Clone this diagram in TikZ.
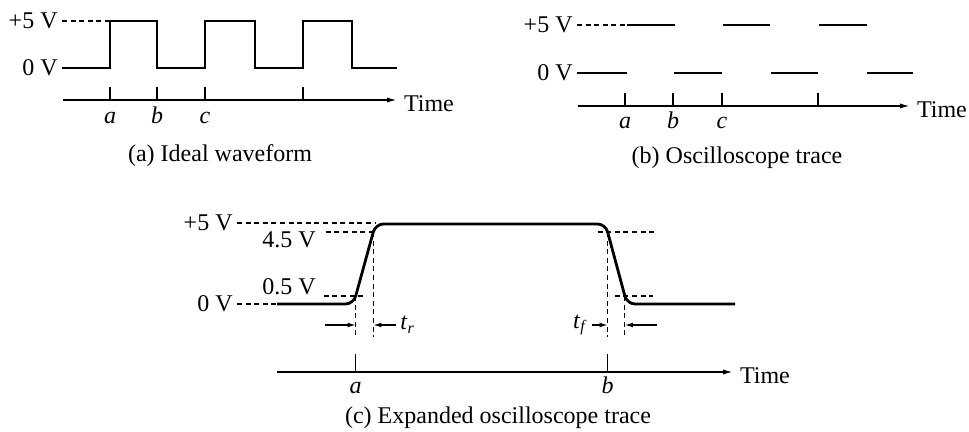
\documentclass[tikz,border=0pt]{standalone}
\usepackage{fontspec}
\setmainfont{Liberation Serif}
\usetikzlibrary{arrows.meta, calc}

\begin{document}
\begin{tikzpicture}[
  x=0.5pt, y=-0.5pt,
  font=\fontsize{12}{14}\selectfont,
  wave/.style={line width=0.9pt},
  trace/.style={line width=1.4pt, rounded corners=4pt},
  guide/.style={line width=0.6pt, dash pattern=on 2.5pt off 1.8pt},
  axis/.style={line width=0.8pt, -{Latex[length=5pt, width=2.6pt]}},
  tick/.style={line width=0.6pt},
  dim/.style={line width=0.6pt, -{Latex[length=4pt, width=2.4pt]}},
  lvl/.style={anchor=east, inner sep=2pt},
  tlbl/.style={anchor=base, font=\fontsize{12}{14}\selectfont\itshape},
  captxt/.style={anchor=base},
]
\useasboundingbox (0,0) rectangle (969,432);

% (a) ideal waveform
\node (a5) [lvl] at (62,21) {+5 V};
\node (a0) [lvl] at (62,68) {0 V};
\node (atime) [anchor=west, yshift=-2pt] at (397,100) {Time};
\coordinate (aorg) at (63,100);
\draw [guide] (a5.east) -- (110,21);
\draw [wave] (a0.east) \foreach \r/\f in {110/157, 205/255, 303/352}
  { -- (\r,68) -- (\r,21) -- (\f,21) -- (\f,68) } -- (397,68);
\draw [axis] (aorg) -- (atime.west |- aorg);
\foreach \x/\t in {110/a, 157/b, 205/c}
  { \draw [tick] (\x,87) -- (\x,100);
    \node (ta-\t) [tlbl] at (\x,124) {\t}; }
\draw [tick] (303,87) -- (303,100);
\node (acap) [captxt] at (220,162) {(a) Ideal waveform};

% (b) oscilloscope trace
\node (b5) [lvl] at (577,25) {+5 V};
\node (b0) [lvl] at (577,73) {0 V};
\node (btime) [anchor=west, yshift=-2pt] at (910,106) {Time};
\coordinate (borg) at (578,106);
\draw [guide] (b5.east) -- (627,25);
\foreach \s/\e in {627/675, 723/770, 819/867}
  \draw [wave] (\s,25) -- (\e,25);
\draw [wave] (b0.east) -- (627,73);
\foreach \s/\e in {674/722, 771/818, 867/913}
  \draw [wave] (\s,73) -- (\e,73);
\draw [axis] (borg) -- (btime.west |- borg);
\foreach \x/\t in {625/a, 673/b, 722/c}
  { \draw [tick] (\x,93) -- (\x,106);
    \node (tb-\t) [tlbl] at (\x,129) {\t}; }
\draw [tick] (818,93) -- (818,106);
\node (bcap) [captxt] at (737,164) {(b) Oscilloscope trace};

% (c) expanded trace
\node (c5) [lvl] at (237,223) {+5 V};
\node (c45) at (289,240) {4.5 V};
\node (c05) at (289,287) {0.5 V};
\node (c0) [lvl] at (237,304) {0 V};
\coordinate (rlo) at (353.5,304);
\coordinate (rhi) at (375.5,224);
\coordinate (fhi) at (605.5,224);
\coordinate (flo) at (627,304);
\coordinate (r10) at ($(rlo)!0.1!(rhi)$);
\coordinate (r90) at ($(rlo)!0.9!(rhi)$);
\coordinate (f90) at ($(fhi)!0.1!(flo)$);
\coordinate (f10) at ($(fhi)!0.9!(flo)$);
\coordinate (dimrow) at (0,325);
\coordinate (vend) at (0,337);
\draw [guide] (c0.east) -- (277,304);
\draw [trace] (277,304) -- (rlo) -- (rhi) -- (fhi) -- (flo) -- (735,304);
\draw [guide] (c5.east) -- (rhi |- c5.east);
\draw [guide] ($(c45.east |- r90)+(3,0)$) -- (r90);
\draw [guide] ($(c05.east |- r10)+(1,0)$) -- ($(r10)+(8,0)$);
\draw [guide] ($(f90)+(-10,0)$) -- ($(f90)+(46,0)$);
\draw [guide] ($(f10)+(-10,0)$) -- ($(f10)+(28,0)$);
\foreach \p in {r10, r90, f90, f10}
  \draw [guide] (\p) -- (\p |- vend);
% rise and fall times
\node (tr) [anchor=west, inner sep=2pt] at (396,325) {\textit{t}\textsubscript{\textit{r}}};
\node (tf) [anchor=east, inner sep=2pt] at (592,325) {\textit{t}\textsubscript{\textit{f}}};
\draw [dim] ($(r10 |- dimrow)+(-31,0)$) -- (r10 |- dimrow);
\draw [dim] (tr.west) -- (r90 |- tr.west);
\draw [dim] (tf.east) -- (f90 |- tf.east);
\draw [dim] ($(f10 |- dimrow)+(32,0)$) -- (f10 |- dimrow);
% time axis
\coordinate (corg) at (277,372);
\node (ctime) [anchor=west, yshift=-2pt] at (733,372) {Time};
\draw [axis] (corg) -- (ctime.west |- corg);
\foreach \p/\t in {r10/a, f90/b}
  { \draw [tick] ($(\p |- corg)+(0,-18)$) -- (\p |- corg);
    \node (tc-\t) [tlbl] at ($(\p |- corg)+(0,22)$) {\t}; }
\node (ccap) [captxt] at (498,423) {(c) Expanded oscilloscope trace};
\end{tikzpicture}
\end{document}
